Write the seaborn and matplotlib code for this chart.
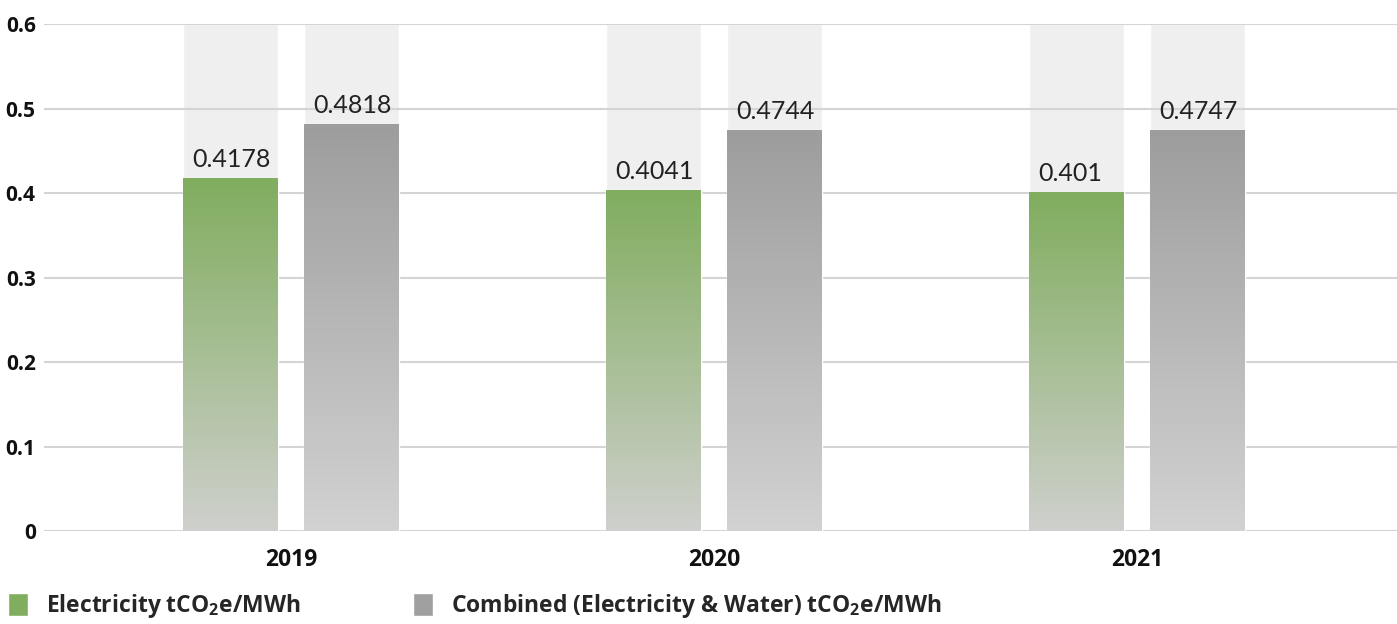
import matplotlib
matplotlib.use('Agg')
import matplotlib.pyplot as plt
import matplotlib.colors as mcolors
from matplotlib.patches import Patch
import seaborn as sns
import numpy as np
import pandas as pd

# 数据
years = ['2019', '2020', '2021']
electricity = [0.4178, 0.4041, 0.401]
combined = [0.4818, 0.4744, 0.4747]
series_names = ['Electricity tCO$_2$e/MWh', 'Combined (Electricity & Water) tCO$_2$e/MWh']
y_max = 0.6
y_ticks = [0, 0.1, 0.2, 0.3, 0.4, 0.5, 0.6]

df = pd.DataFrame({
    'year': years * 2,
    'value': electricity + combined,
    'series': [series_names[0]] * 3 + [series_names[1]] * 3,
})
bg = df.assign(value=y_max)

sns.set_theme(style='white')
plt.rcParams['font.family'] = ['Open Sans', 'DejaVu Sans']
plt.rcParams['mathtext.default'] = 'regular'

green_top, green_bot = '#80ad5e', '#cfd0cd'
gray_top, gray_bot = '#9d9d9d', '#d2d2d2'

fig = plt.figure(figsize=(13.97, 6.24), dpi=100)
ax = fig.add_axes([0.0315, 0.149, 0.9685, 0.8125])

bar_kw = dict(x='year', y='value', hue='series', order=years, hue_order=series_names,
              width=0.572, gap=0.215, legend=False, ax=ax, saturation=1)

# 背景浅灰柱
sns.barplot(data=bg, palette=['#efefef', '#efefef'], zorder=1, **bar_kw)
n_bg = len(ax.patches)
sns.barplot(data=df, palette=[green_top, gray_top], zorder=3, **bar_kw)
bars = ax.patches[n_bg:]

ax.set_xlim(-0.584, 2.615)
ax.set_ylim(0, y_max)

# 渐变填充
for p in bars:
    x0, y0 = p.get_x(), p.get_y()
    w, h = p.get_width(), p.get_height()
    if h <= 0:
        continue
    fc = mcolors.to_hex(p.get_facecolor())
    top, bot = (green_top, green_bot) if fc == green_top else (gray_top, gray_bot)
    cmap = mcolors.LinearSegmentedColormap.from_list('g', [bot, top])
    grad = np.linspace(0, 1, 256).reshape(-1, 1)
    im = ax.imshow(grad, cmap=cmap, extent=[x0, x0 + w, y0, y0 + h], origin='lower',
                   aspect='auto', zorder=3.5)
    im.set_clip_path(p)
    # 数值标签
    ax.text(x0 + 0.021, y0 + h + 0.008, f'{h:g}', ha='left', va='bottom',
            fontsize=18, color='#222222', family=['Lato', 'DejaVu Sans'],
            fontweight='normal', zorder=5)

ax.set_xlim(-0.584, 2.615)
ax.set_ylim(0, y_max)

ax.set_yticks(y_ticks)
ax.set_yticklabels([f'{t:g}' for t in y_ticks], fontsize=15, fontweight='bold', color='#111111')
ax.grid(axis='y', color='#d4d4d4', linewidth=1.5, zorder=2)
ax.set_axisbelow(False)
for ln in ax.get_ygridlines():
    ln.set_zorder(2)
ax.tick_params(axis='y', length=0, pad=6)
ax.tick_params(axis='x', length=0, pad=12, labelsize=16.5)
for lbl in ax.get_xticklabels():
    lbl.set_fontweight('bold')
    lbl.set_color('#111111')
ax.set_xlabel('')
ax.set_ylabel('')
sns.despine(ax=ax, left=True, bottom=True)

handles = [Patch(facecolor=green_top, label=series_names[0]),
           Patch(facecolor='#a0a0a0', label=series_names[1])]
fig.legend(handles=handles, loc='lower left', bbox_to_anchor=(-0.009, -0.027), ncol=2,
           frameon=False, handlelength=0.87, handleheight=1.2, handletextpad=0.78,
           columnspacing=4.9, prop={'size': 16.5, 'weight': 'bold'})

fig.savefig('out.png', dpi=100)
